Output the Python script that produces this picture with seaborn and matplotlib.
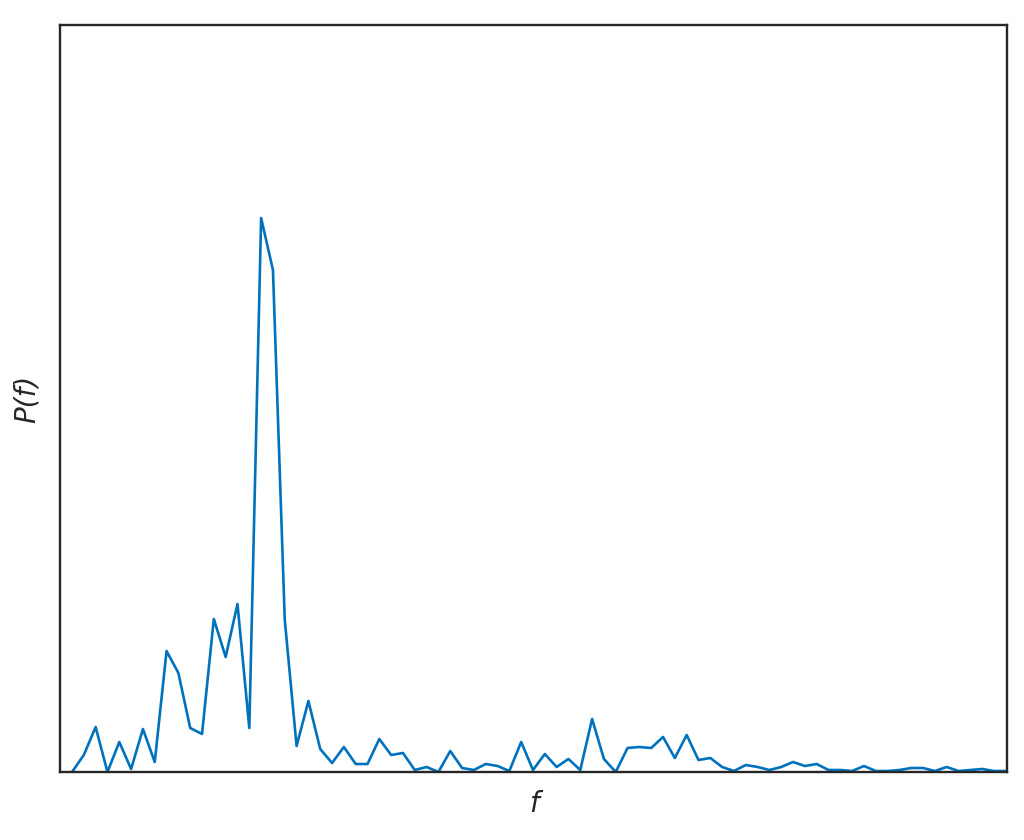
import numpy as np
import pandas as pd
import matplotlib
matplotlib.use("Agg")
import matplotlib.pyplot as plt
import seaborn as sns

# power spectrum (arbitrary units)
freq_index = list(range(80))
power = [0, 17, 45, 0, 30, 3, 43, 10, 121, 99,
         44, 38, 153, 115, 168, 44, 554, 502, 152, 26,
         71, 23, 9, 25, 8, 8, 33, 17, 19, 2,
         5, 0, 21, 4, 2, 8, 6, 1, 30, 2,
         18, 5, 13, 2, 53, 13, 0, 24, 25, 24,
         35, 14, 37, 12, 14, 5, 1, 7, 5, 2,
         5, 10, 6, 8, 2, 2, 1, 6, 1, 1,
         2, 4, 4, 1, 5, 1, 2, 3, 1, 1]

df = pd.DataFrame({"f": freq_index, "P": power})

sns.set_theme(style="white")
plt.rcParams["font.family"] = ["DejaVu Sans"]

fig = plt.figure(figsize=(10.24, 8.4), dpi=100)
ax = fig.add_axes([60 / 1024, 68 / 840, 947 / 1024, 747 / 840])

sns.lineplot(data=df, x="f", y="P", color="#0072BD", linewidth=1.9, ax=ax)

ax.set_xlim(-1.015, 79.1)
ax.set_ylim(0, 747)
ax.set_xticks([])
ax.set_yticks([])
ax.set_xlabel("f", fontsize=20, fontstyle="italic", color="#262626", labelpad=13)
ax.set_ylabel("P(f)", fontsize=20, fontstyle="italic", color="#262626", labelpad=14)
for s in ax.spines.values():
    s.set_color("#262626")
    s.set_linewidth(1.7)

fig.savefig("out.png", dpi=100)
plt.close(fig)
